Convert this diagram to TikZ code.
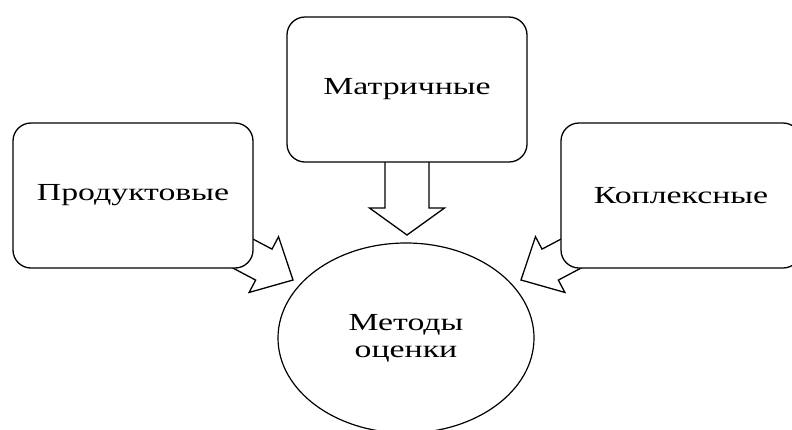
\documentclass[tikz,border=0pt]{standalone}
\usepackage{fontspec}
\setmainfont[FakeStretch=1.38]{Liberation Serif}
\usetikzlibrary{calc}
\usetikzlibrary{shapes.geometric}
\usetikzlibrary{backgrounds}
\tikzset{>=latex}
\tikzstyle{box} = [rectangle, rounded corners=18pt, draw=black, line width=1.3pt, fill=white, minimum width=240pt, minimum height=145pt, font=\fontsize{24.5}{27}\selectfont]
\tikzstyle{oval} = [ellipse, draw=black, line width=1.2pt, fill=white, minimum width=256pt, minimum height=190pt, inner sep=0pt, align=center, font=\fontsize{24.5}{27}\selectfont]
\tikzset{blockarrow/.style n args={3}{draw=black, line width=1.3pt, fill=white, line join=miter,
  to path={let \p1=($(\tikztotarget)!#3!(\tikztostart)$) in
    ($(\tikztostart)!#1!90:(\tikztotarget)$) -- ($(\p1)!#1!90:(\tikztotarget)$)
    -- ($(\p1)!#2!90:(\tikztotarget)$) -- (\tikztotarget)
    -- ($(\p1)!#2!-90:(\tikztotarget)$) -- ($(\p1)!#1!-90:(\tikztotarget)$)
    -- ($(\tikztostart)!#1!-90:(\tikztotarget)$) -- cycle}}}

\begin{document}
\begin{tikzpicture}[x=1pt, y=-1pt]
\useasboundingbox (0,0) rectangle (792,429);
\node [box] (prod) at (133, 195.5) {Продуктовые};
\node [box] (matr) at (407, 89.5) {Матричные};
\node [box] (kompl) at (681, 195.5) {Коплексные};
\node [oval] (metody) at (406, 338) {Методы\\оценки};
\coordinate (ltip) at (293, 280);
\coordinate (mtip) at (407, 235);
\coordinate (rtip) at (521, 280);
\begin{pgfonlayer}{background}
\draw [blockarrow={17.5pt}{31.5pt}{33pt}] (prod.center) to (ltip);
\draw [blockarrow={22pt}{37.5pt}{27pt}] (matr.center) to (mtip);
\draw [blockarrow={17.5pt}{31.5pt}{33pt}] (kompl.center) to (rtip);
\end{pgfonlayer}
\end{tikzpicture}
\end{document}
